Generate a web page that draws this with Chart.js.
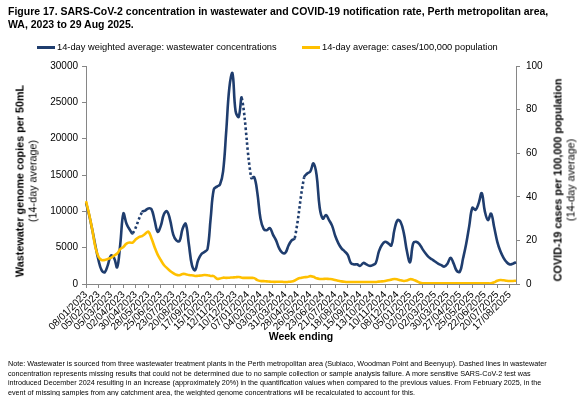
<!DOCTYPE html>
<html><head><meta charset="utf-8">
<script src="https://cdn.jsdelivr.net/npm/chart.js@4.4.1/dist/chart.umd.min.js"></script>
<style>
html,body{margin:0;padding:0;background:#fff;}
body{width:582px;height:396px;position:relative;overflow:hidden;font-family:"Liberation Sans",Arial,sans-serif;color:#000;}
#c{position:absolute;left:0;top:0;}
.t{position:absolute;white-space:nowrap;}
.vt{position:absolute;white-space:nowrap;text-align:center;transform:translate(-50%,-50%) rotate(-90deg);font-size:10.8px;line-height:12.5px;}
.sw{position:absolute;height:2.5px;width:18px;}
</style></head><body>
<canvas id="c" width="582" height="396"></canvas>
<div class="t" style="left:8px;top:5px;font-weight:bold;font-size:10.5px;line-height:13px;">Figure 17. SARS-CoV-2 concentration in wastewater and COVID-19 notification rate, Perth metropolitan area,<br>WA, 2023 to 29 Aug 2025.</div>
<div class="sw" style="left:37px;top:46px;background:#1F3D6E;"></div>
<div class="t" style="left:57px;top:41px;font-size:9.3px;line-height:12px;">14-day weighted average: wastewater concentrations</div>
<div class="sw" style="left:302px;top:46px;background:#FFC000;"></div>
<div class="t" style="left:322px;top:41px;font-size:9.3px;line-height:12px;">14-day average: cases/100,000 population</div>
<div class="vt" style="left:26px;top:181px;"><b>Wastewater genome copies per 50mL</b><br>(14-day average)</div>
<div class="vt" style="left:564px;top:180px;"><b>COVID-19 cases per 100,000 population</b><br>(14-day average)</div>
<div class="t" style="left:8px;top:359px;font-size:7.2px;line-height:9.7px;">Note: Wastewater is sourced from three wastewater treatment plants in the Perth metropolitan area (Subiaco, Woodman Point and Beenyup). Dashed lines in wastewater<br>concentration represents missing results that could not be determined due to no sample collection or sample analysis failure. A more sensitive SARS-CoV-2 test was<br>introduced December 2024 resulting in an increase (approximately 20%) in the quantification values when compared to the previous values. From February 2025, in the<br>event of missing samples from any catchment area, the weighted genome concentrations will be recalculated to account for this.</div>
<script>
// Week-ending categories (weekly, 08/01/2023 .. 31/08/2025)
const weekEnding = (function(){
  const out = [];
  const d = new Date(Date.UTC(2023, 0, 8));
  for (let i = 0; i < 139; i++) {
    const dd = String(d.getUTCDate()).padStart(2,'0');
    const mm = String(d.getUTCMonth()+1).padStart(2,'0');
    out.push(dd + '/' + mm + '/' + d.getUTCFullYear());
    d.setUTCDate(d.getUTCDate() + 7);
  }
  return out;
})();

// Tick labels shown every 4th week
const tickLabels = ['08/01/2023','05/02/2023','05/03/2023','02/04/2023','30/04/2023','28/05/2023','25/06/2023','23/07/2023','20/08/2023','17/09/2023','15/10/2023','12/11/2023','10/12/2023','07/01/2024','04/02/2024','03/03/2024','31/03/2024','28/04/2024','26/05/2024','23/06/2024','21/07/2024','18/08/2024','15/09/2024','13/10/2024','10/11/2024','08/12/2024','05/01/2025','02/02/2025','02/03/2025','30/03/2025','27/04/2025','25/05/2025','22/06/2025','20/07/2025','17/08/2025'];

// 14-day weighted average wastewater concentration (copies per 50mL); null = missing (dashed)
const wastewater = [
11200, 9500, 7500, 5300, 3300, 1900, 1600, 2600, 3900, 3600,
2300, 5500, 9700, 8300, 7500, 7000, null, null, 9900, 10100,
10400, 10300, 8800, 7200, 8000, 9600, 10000, 8800, 6800, 6000,
5900, 7600, 8300, 5500, 2600, 1900, 3300, 4100, 4400, 4800,
9000, 13000, 13400, 13700, 15500, 21000, 27000, 29000, 23800, 23000,
25600, null, null, 14600, 14700, 12500, 9000, 7600, 7400, 7700,
6800, 6000, 4900, 4300, 4300, 5300, 6000, 6300, null, null,
14700, 15200, 15500, 16600, 15000, 10500, 9000, 9500, 8800, 8000,
6600, 5600, 4900, 4500, 4000, 2900, 2700, 2700, 2500, 2900,
2700, 2500, 2600, 2900, 4500, 5400, 5800, 5600, 5300, 7500,
8800, 8500, 7000, 4500, 3000, 5600, 5800, 5500, 4800, 4200,
3700, 3400, 3100, 2800, 2600, 2400, 2800, 3600, 2800, 1800,
1700, 3500, 5500, 8000, 10500, 10200, 11100, 12500, 10000, 8800,
9700, 7800, 5800, 4500, 3600, 3000, 2700, 2800, 3000
];

// 14-day average cases per 100,000 population
const casesRate = [
38, 32, 25, 17, 12.5, 11, 11, 11.5, 12, 13,
14, 16, 17, 18.5, 19, 19, 20.5, 21.5, 22, 23,
24, 21, 17, 13.5, 11, 8.7, 7.3, 6, 5, 4.2,
4, 4.6, 4.5, 4.1, 4, 3.7, 3.8, 3.9, 4.1, 4,
3.7, 3.6, 2.4, 2.5, 2.9, 2.8, 2.9, 3, 3.1, 3.2,
2.9, 2.8, 2.8, 2.8, 2.7, 1.8, 1.4, 1.3, 1.2, 1.1,
1, 1, 1, 1, 0.9, 1, 1.1, 1.6, 2.4, 2.8,
3.1, 3.2, 3.6, 3.3, 2.6, 2.3, 2.3, 2.4, 2.3, 2.2,
1.8, 1.5, 1.2, 1, 0.9, 0.9, 0.9, 0.9, 0.9, 0.9,
0.9, 0.9, 0.9, 0.9, 1.1, 1.2, 1.4, 1.7, 2, 2.3,
2.1, 1.7, 1.4, 1.6, 2.2, 2, 1.4, 0.7, 0.3, 0.3,
0.3, 0.3, 0.3, 0.3, 0.3, 0.3, 0.3, 0.3, 0.3, 0.3,
0.3, 0.3, 0.3, 0.3, 0.3, 0.3, 0.3, 0.3, 0.3, 0.3,
0.3, 0.8, 1.5, 1.8, 1.7, 1.5, 1.4, 1.4, 1.5
];

const AXIS = '#868686';
const FONT = '"Liberation Sans", Arial, sans-serif';

new Chart(document.getElementById('c'), {
  type: 'line',
  data: {
    labels: weekEnding,
    datasets: [
      {
        label: '14-day weighted average: wastewater concentrations',
        data: wastewater,
        yAxisID: 'y',
        borderColor: '#1F3D6E',
        borderWidth: 2.6,
        pointRadius: 0,
        tension: 0.4,
        spanGaps: true,
        order: 1,
        segment: {
          borderDash: ctx => (ctx.p1DataIndex > 0 && wastewater[ctx.p1DataIndex - 1] === null) ? [2.5, 2.5] : undefined
        }
      },
      {
        label: '14-day average: cases/100,000 population',
        data: casesRate,
        yAxisID: 'y1',
        borderColor: '#FFC000',
        borderWidth: 2.6,
        pointRadius: 0,
        tension: 0.4,
        order: 0
      }
    ]
  },
  options: {
    responsive: false,
    animation: false,
    devicePixelRatio: 1,
    layout: { padding: { top: 66, bottom: 51, left: 0, right: 0 } },
    plugins: { legend: { display: false }, tooltip: { enabled: false } },
    scales: {
      x: {
        type: 'category',
        offset: false,
        grid: { drawOnChartArea: false, tickLength: 4, color: AXIS, lineWidth: 1 },
        border: { color: AXIS, width: 1 },
        ticks: {
          autoSkip: false, maxRotation: 45, minRotation: 45, padding: 1,
          color: '#000', font: { family: FONT, size: 10 },
          callback: (v, i) => (i % 4 === 0) ? tickLabels[i / 4] : null
        },
        title: { display: true, text: 'Week ending', color: '#000', font: { family: FONT, size: 10.5, weight: 'bold' }, padding: { top: 0, bottom: 1.5 } },
        afterFit: s => { s.height = 61; }
      },
      y: {
        position: 'left', min: 0, max: 30000,
        grid: { drawOnChartArea: false, tickLength: 4, color: AXIS },
        border: { color: AXIS, width: 1 },
        ticks: { stepSize: 5000, padding: 4, color: '#000', font: { family: FONT, size: 10 }, callback: v => String(v) },
        afterFit: s => { s.width = 86; }
      },
      y1: {
        position: 'right', min: 0, max: 100,
        grid: { drawOnChartArea: false, tickLength: 4, color: AXIS },
        border: { color: AXIS, width: 1 },
        ticks: { stepSize: 20, padding: 6, color: '#000', font: { family: FONT, size: 10 }, callback: v => String(v) },
        afterFit: s => { s.width = 66; }
      }
    }
  }
});
</script>
</body></html>
